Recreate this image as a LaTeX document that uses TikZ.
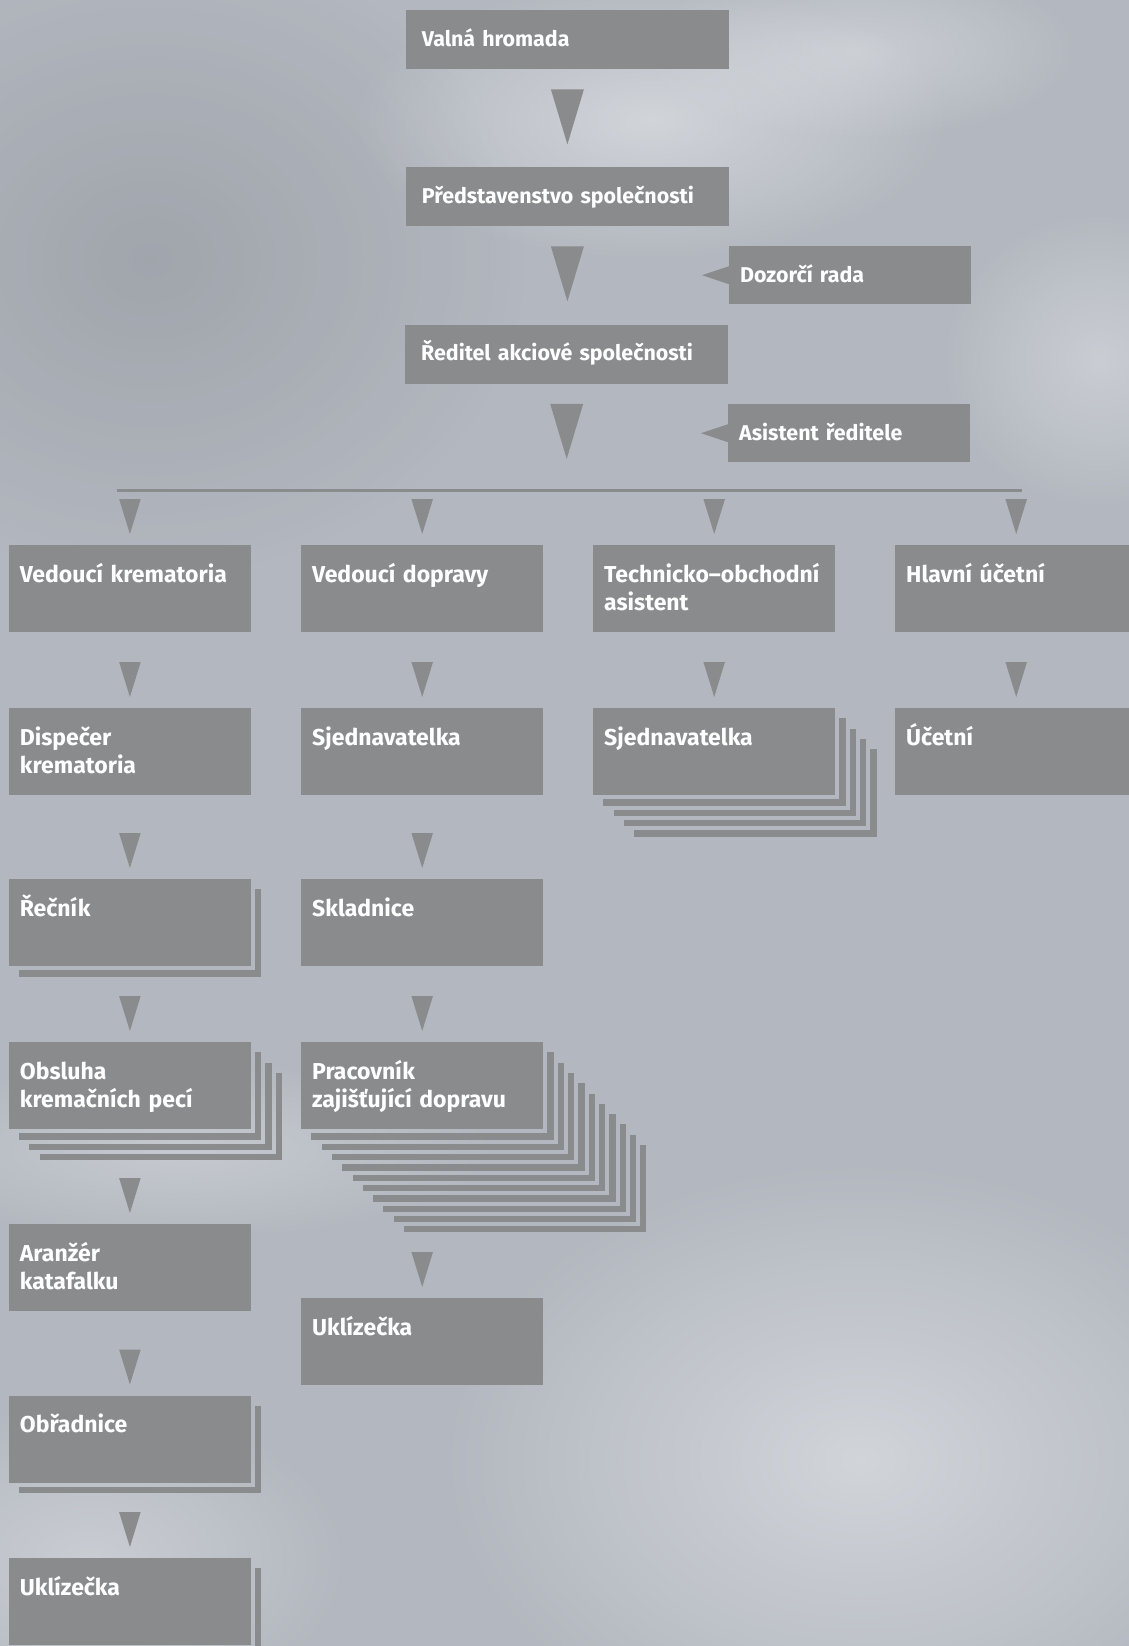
\documentclass[tikz,border=0pt]{standalone}
\usepackage{fontspec}
\setmainfont{Fira Sans}
\usetikzlibrary{calc,positioning,fadings}
\definecolor{boxgrey}{RGB}{138,139,141}
\definecolor{skybg}{RGB}{179,184,192}
\tikzfading[name=cloudfade,inner color=transparent!0,outer color=transparent!100]
\tikzset{
  blk/.style={fill=boxgrey,text=white,anchor=north west,align=left,
              font=\bfseries\fontsize{23}{28.3}\selectfont,
              inner xsep=11pt,inner ysep=0pt,text width=220pt,
              text height=37pt,text depth=50pt},
  blktop/.style={blk,font=\bfseries\fontsize{21.4}{28}\selectfont,
                 inner xsep=16pt,text width=291pt,text height=36pt,text depth=23pt},
  blkside/.style={blk,font=\bfseries\fontsize{21.4}{28}\selectfont,
                  text height=36pt,text depth=22pt},
  cloudy/.style={white,path fading=cloudfade},
}
% small arrowhead just above a box
\newcommand\arrdown[1]{%
  \fill[boxgrey] ($(#1.north)+(0,-11)$) -- ++(-10.8,-35) -- ++(21.6,0) -- cycle;}
% big arrowhead under a box of the top chain
\newcommand\bigarr[1]{%
  \fill[boxgrey] ($(#1.south)+(0,75)$) -- ++(-16.5,-55) -- ++(33,0) -- cycle;}
% pointer on the left side of a side box
\newcommand\sideptr[1]{%
  \fill[boxgrey] ($(#1.west)+(-27,0)$) -- ($(#1.west)+(0,-9)$) -- ($(#1.west)+(0,9)$) -- cycle;}
% copies stacked behind a box (only their L-shaped edges show)
\newcommand\stackof[2]{%
  \foreach \k in {1,...,#2}{
    \fill[boxgrey] ($(#1.north east)+(\k*10.3-6.3,\k*10.3)$) rectangle ($(#1.south east)+(\k*10.3,\k*10.3)$);
    \fill[boxgrey] ($(#1.south west)+(\k*10.3,\k*10.3-6.3)$) rectangle ($(#1.south east)+(\k*10.3,\k*10.3)$);
  }}

\begin{document}
\begin{tikzpicture}[x=1pt,y=-1pt]

  % --- sky ----------------------------------------------------------------
  \useasboundingbox (0,0) rectangle (1129,1646);
  \clip (0,0) rectangle (1129,1646);
  \fill[skybg] (0,0) rectangle (1129,1646);
  \fill[black,opacity=.10,path fading=cloudfade] (150,260) ellipse (380 and 320);
  \fill[cloudy,opacity=.40] (650,120) ellipse (300 and 140);
  \fill[cloudy,opacity=.30] (860,50) ellipse (220 and 90);
  \fill[cloudy,opacity=.30] (1100,360) ellipse (160 and 150);
  \fill[cloudy,opacity=.25] (180,1150) ellipse (320 and 90);
  \fill[cloudy,opacity=.40] (860,1460) ellipse (420 and 300);
  \fill[cloudy,opacity=.30] (90,1560) ellipse (260 and 160);

  % --- top chain ----------------------------------------------------------
  \node[blktop] (valna)  at (405.7,10)    {Valná hromada};
  \node[blktop] (predst) at (405.7,167)   {Představenstvo společnosti};
  \node[blktop] (redit)  at (405,324.5)   {Ředitel akciové společnosti};
  \node[blkside] (dozor) at (729,246)     {Dozorčí rada};
  \node[blkside] (asist) at (728,404)     {Asistent ředitele};

  \bigarr{valna}
  \bigarr{predst}
  \bigarr{redit}
  \sideptr{dozor}
  \sideptr{asist}

  % --- bus ----------------------------------------------------------------
  \coordinate (busl) at (116.7,490);
  \coordinate (busr) at (1022,490);
  \draw[boxgrey,line width=3pt] (busl) -- (busr);

  % --- columns ------------------------------------------------------------
  \node[blk] (vkrem)  at (8.7,545)  {Vedoucí krematoria};
  \node[blk] (vdop)   at (301,545)  {Vedoucí dopravy};
  \node[blk] (techob) at (593,545)  {Technicko--obchodní\\asistent};
  \node[blk] (hlucet) at (895,545)  {Hlavní účetní};

  \node[blk] (dispec) at (8.7,708)  {Dispečer\\krematoria};
  \node[blk] (sjedna) at (301,708)  {Sjednavatelka};
  \node[blk] (sjednb) at (593,708)  {Sjednavatelka};
  \node[blk] (ucetni) at (895,708)  {Účetní};

  \node[blk] (recnik) at (8.7,879)  {Řečník};
  \node[blk] (sklad)  at (301,879)  {Skladnice};

  \node[blk] (obsl)   at (8.7,1042) {Obsluha\\kremačních pecí};
  \node[blk] (prac)   at (301,1042) {Pracovník\\zajišťující dopravu};

  \node[blk] (aranz)  at (8.7,1224) {Aranžér\\katafalku};
  \node[blk] (uklb)   at (301,1298) {Uklízečka};
  \node[blk] (obrad)  at (8.7,1395.5) {Obřadnice};
  \node[blk] (ukla)   at (8.7,1558) {Uklízečka};

  % stacked copies
  \stackof{sjednb}{4}
  \stackof{recnik}{1}
  \stackof{obsl}{3}
  \stackof{prac}{10}
  \stackof{obrad}{1}
  \stackof{ukla}{1}

  % arrowheads
  \foreach \n in {vkrem,vdop,techob,hlucet,dispec,sjedna,sjednb,ucetni,
                  recnik,sklad,obsl,prac,aranz,uklb,obrad,ukla}
    {\arrdown{\n}}

\end{tikzpicture}
\end{document}
